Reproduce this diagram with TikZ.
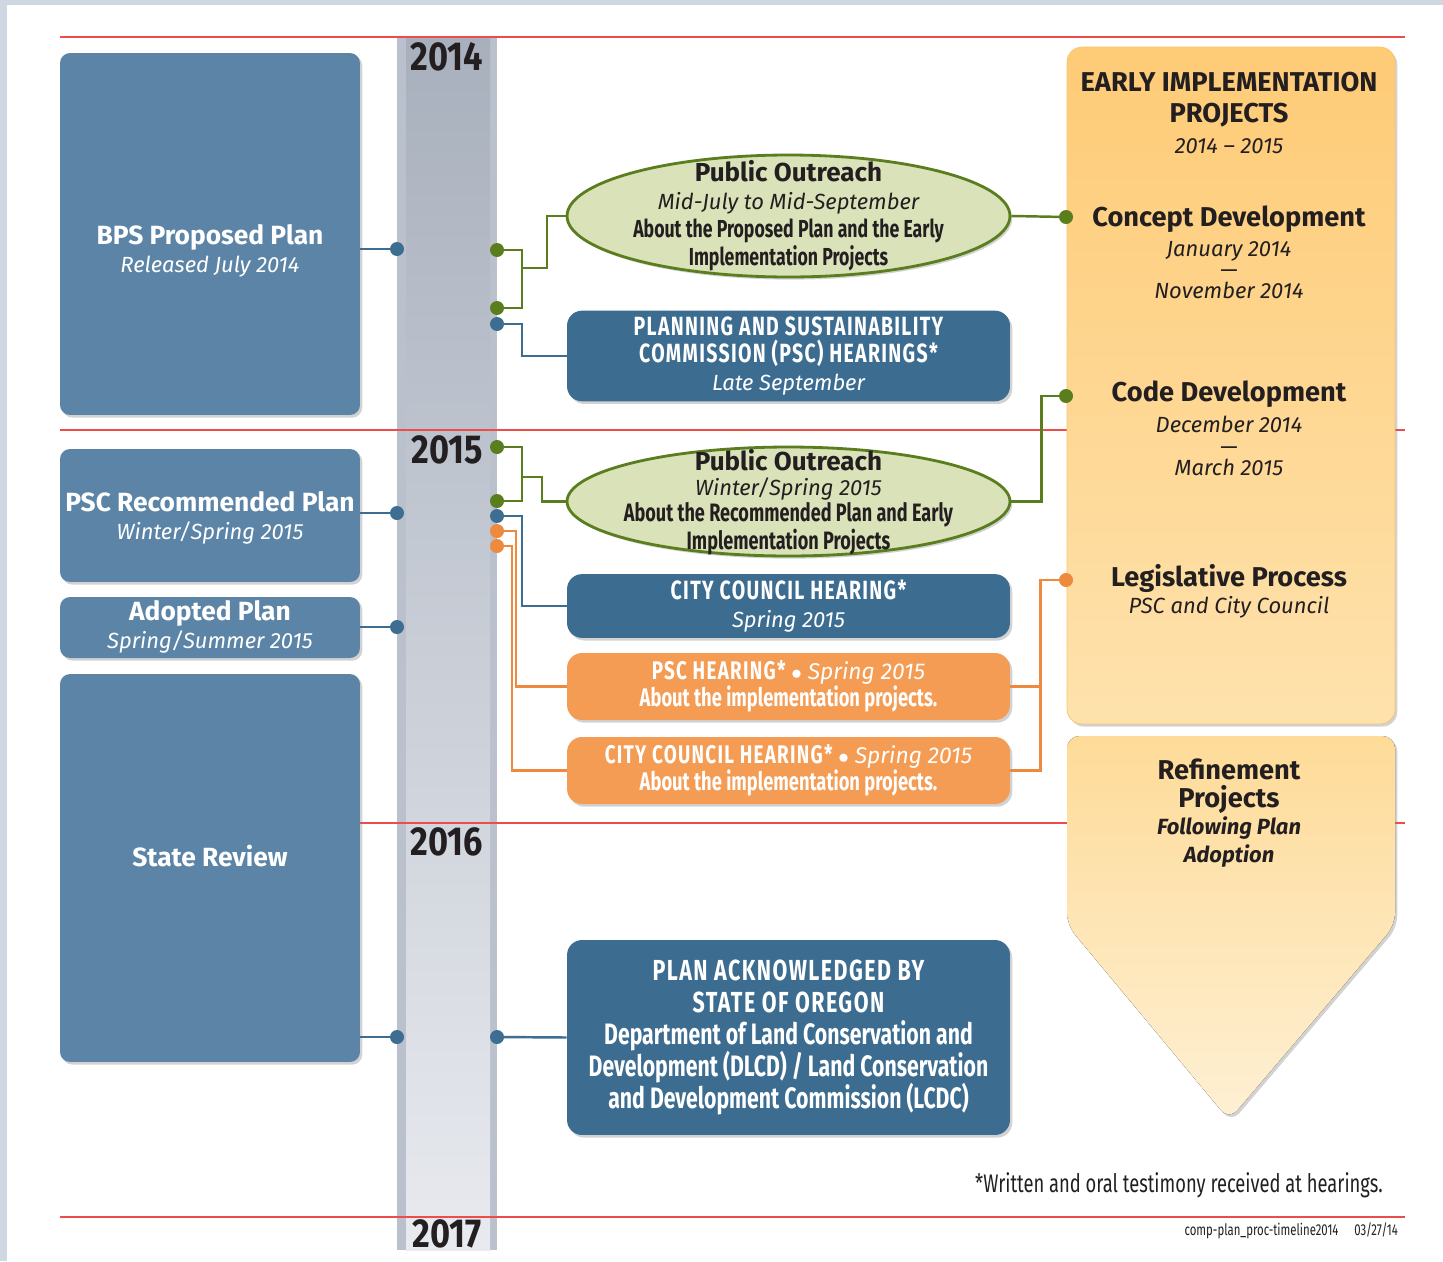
\documentclass[tikz,border=0pt]{standalone}
\usepackage{fontspec}
\setmainfont{Fira Sans}
\newfontfamily\condfont[FakeStretch=0.72]{Fira Sans}
\newfontfamily\capsfont[FakeStretch=0.74,LetterSpace=5]{Fira Sans}
\newfontfamily\yearfont[FakeStretch=0.85]{Fira Sans}
\usetikzlibrary{shapes.geometric,shadows}

\definecolor{framegray}{HTML}{CFD8E2}
\definecolor{leftblue}{HTML}{5B84A6}
\definecolor{midblue}{HTML}{3C6D91}
\definecolor{lineblue}{HTML}{3D6E92}
\definecolor{leafgreen}{HTML}{5A7D1E}
\definecolor{palegreen}{HTML}{DAE2BA}
\definecolor{hearorange}{HTML}{F59C54}
\definecolor{lineorange}{HTML}{EE8A3E}
\definecolor{earlytop}{HTML}{FECB76}
\definecolor{earlybot}{HTML}{FEE2AD}
\definecolor{refinetop}{HTML}{FEDB98}
\definecolor{refinebot}{HTML}{FEF0D4}
\definecolor{yearred}{HTML}{EE4B4B}
\definecolor{bandedge}{HTML}{BAC1CD}
\definecolor{bandtop}{HTML}{A8B0BD}
\definecolor{bandbot}{HTML}{E8EAEF}
\definecolor{inkdark}{HTML}{231F20}

\newcommand\fs[2]{\fontsize{#1}{#2}\selectfont}

\begin{document}
\begin{tikzpicture}[x=0.02cm,y=-0.02cm,
  softshadow/.style={drop shadow={shadow xshift=1.3pt,shadow yshift=-1.5pt,opacity=0.35}},
  leftbox/.style={fill=leftblue,rounded corners=0.2cm,minimum width=6cm,softshadow},
  lefttext/.style={text=white,align=center,font=\fs{15}{16.2}\bfseries},
  midbox/.style={fill=midblue,rounded corners=0.3cm,minimum width=8.86cm,softshadow,
    text=white,align=center,font=\capsfont\fs{15}{15.8}\bfseries},
  hearbox/.style={midbox,fill=hearorange,font=\capsfont\fs{14.5}{15.6}\bfseries},
  outreach/.style={ellipse,fill=palegreen,draw=leafgreen,line width=1.6pt,
    minimum width=8.86cm,softshadow},
  outtext/.style={text=inkdark,align=center,font=\condfont\fs{14}{16}\bfseries},
  righttext/.style={text=inkdark,align=center,font=\fs{15.5}{17.6}\bfseries},
  year/.style={text=inkdark,font=\yearfont\fs{23}{23}\bfseries},
  redline/.style={yearred,line width=0.8pt},
  blueline/.style={lineblue,line width=1.4pt},
  greenline/.style={leafgreen,line width=1.4pt},
  orangeline/.style={lineorange,line width=1.4pt}]

\useasboundingbox (0,0) rectangle (1443,1261);
\fill[white] (0,0) rectangle (1443,1261);
\fill[framegray] (0,0) rectangle (1443,5);
\fill[framegray] (0,0) rectangle (7,1261);

% timeline band
\fill[bandedge] (397,38) rectangle (497,1250);
\shade[top color=bandtop,bottom color=bandbot] (406,38) rectangle (490,1250);

% year lines
\foreach \yy in {37,430,823,1217}
  \draw[redline] (60,\yy) -- (1405,\yy);

\node[year] (y14) at (447,57) {2014};
\node[year] (y15) at (447,450) {2015};
\node[year] (y16) at (447,842) {2016};
\node[year] (y17) at (447,1234) {2017};

% left column
\node[leftbox,minimum height=7.24cm] (bps) at (210,234) {};
\node[lefttext] (bpstxt) at (210,251) {BPS Proposed Plan\\{\fs{12.5}{16.2}\mdseries\itshape Released July 2014}};
\node[leftbox,minimum height=2.66cm] (pscrec) at (210,515.5) {};
\node[lefttext] (pscrectxt) at (210,518) {PSC Recommended Plan\\{\fs{12.5}{16.2}\mdseries\itshape Winter/Spring 2015}};
\node[leftbox,minimum height=1.22cm] (adopted) at (210,627.5) {};
\node[lefttext] (adoptedtxt) at (210,627) {Adopted Plan\\{\fs{12.5}{16.2}\mdseries\itshape Spring/Summer 2015}};
\node[leftbox,minimum height=7.76cm] (state) at (210,868) {};
\node[lefttext] (statetxt) at (210,856) {State Review};

% middle column
\node[outreach,minimum height=2.44cm] (out1) at (788.5,216) {};
\node[outtext] (out1txt) at (788.5,216) {{\normalfont\fs{14.8}{16}\bfseries Public Outreach}\\
  {\normalfont\fs{12.5}{16}\itshape Mid-July to Mid-September}\\
  About the Proposed Plan and the Early\\Implementation Projects};
\node[midbox,minimum height=1.76cm] (psc) at (788.5,356) {PLANNING AND SUSTAINABILITY\\COMMISSION (PSC) HEARINGS*\\
  {\normalfont\fs{12.5}{15.8}\itshape Late September}};
\node[outreach,minimum height=2.18cm] (out2) at (788.5,501.5) {};
\node[outtext,font=\condfont\fs{14.3}{14.6}\bfseries] (out2txt) at (788.5,502) {{\normalfont\fs{14.8}{14.6}\bfseries Public Outreach}\\
  {\normalfont\fs{12.5}{14.6}\itshape Winter/Spring 2015}\\
  About the Recommended Plan and Early\\Implementation Projects};
\node[midbox,minimum height=1.24cm] (cc) at (788.5,606) {CITY COUNCIL HEARING*\\
  {\normalfont\fs{12.5}{15.8}\itshape Spring 2015}};
\node[hearbox,minimum height=1.34cm] (pschear) at (788.5,686.5) {PSC HEARING* {\normalfont\fs{13}{15.6}$\bullet$ \itshape Spring 2015}\\
  {\condfont\bfseries About the implementation projects.}};
\node[hearbox,minimum height=1.34cm] (cchear) at (788.5,770.5) {CITY COUNCIL HEARING* {\normalfont\fs{13}{15.6}$\bullet$ \itshape Spring 2015}\\
  {\condfont\bfseries About the implementation projects.}};
\node[midbox,minimum height=3.9cm,font=\capsfont\fs{16.5}{18.2}\bfseries] (ack) at (788.5,1037.5) {PLAN ACKNOWLEDGED BY\\STATE OF OREGON\\
  {\condfont\fs{16.8}{18.2}\bfseries Department of Land Conservation and}\\
  {\condfont\fs{16.8}{18.2}\bfseries Development (DLCD) / Land Conservation}\\
  {\condfont\fs{16.8}{18.2}\bfseries and Development Commission (LCDC)}};

% right column
\node[top color=earlytop,bottom color=earlybot,draw=earlytop!90!orange,line width=0.4pt,
  rounded corners=0.3cm,minimum width=6.56cm,minimum height=13.54cm,softshadow] (early) at (1231,385.5) {};
\node[righttext] (earlytxt) at (1229,113) {EARLY IMPLEMENTATION\\PROJECTS\\{\fs{12.5}{17.6}\mdseries\itshape 2014 -- 2015}};
\node[righttext] (concept) at (1229,219) {Concept Development};
\node[righttext,font=\fs{12.5}{12.2}\itshape] (conceptdate) at (1229,270) {January 2014\\\upshape---\\November 2014};
\node[righttext] (code) at (1229,394) {Code Development};
\node[righttext,font=\fs{12.5}{12.2}\itshape] (codedate) at (1229,446) {December 2014\\\upshape---\\March 2015};
\node[righttext] (legis) at (1229,578) {Legislative Process};
\node[righttext,font=\fs{12.5}{16}\itshape] (legistxt) at (1229,607) {PSC and City Council};

\fill[top color=refinetop,bottom color=refinebot,rounded corners=0.25cm,softshadow]
  (1067,736) -- (1395,736) -- (1395,925) -- (1229,1120) -- (1067,925) -- cycle;
\node[righttext,font=\fs{15.5}{15.8}\bfseries] (refine) at (1229,813) {Refinement\\Projects\\
  {\fs{12.5}{15.8}\itshape Following Plan}\\{\fs{12.5}{15.8}\itshape Adoption}};

% notes
\node[anchor=east,text=inkdark,font=\condfont\fs{14.5}{16}] (note) at (1389,1185) {*Written and oral testimony received at hearings.};
\node[anchor=east,text=inkdark,font=\condfont\fs{9}{10}] (stamp) at (1404,1231) {comp-plan\_proc-timeline2014\quad 03/27/14};

% dots on the band
\coordinate (d1) at (397,249);
\coordinate (d2) at (397,513);
\coordinate (d3) at (397,627);
\coordinate (d4) at (397,1037);
\coordinate (g1) at (497,250);
\coordinate (g2) at (497,308);
\coordinate (b1) at (497,324);
\coordinate (g3) at (497,447);
\coordinate (g4) at (497,501);
\coordinate (b2) at (497,516);
\coordinate (o1) at (497,531);
\coordinate (o2) at (497,546);
\coordinate (b3) at (497,1037);
\coordinate (gr1) at (1066,217);
\coordinate (gr2) at (1066,396);
\coordinate (or1) at (1066,580);
\coordinate (gj1) at (522,268);
\coordinate (gj2) at (522,477);

% connectors
\draw[blueline] (bps.east |- d1) -- (d1);
\draw[blueline] (pscrec.east |- d2) -- (d2);
\draw[blueline] (adopted.east |- d3) -- (d3);
\draw[blueline] (state.east |- d4) -- (d4);

\draw[greenline] (g1) -| (gj1) |- (g2);
\draw[greenline] (gj1) -- ++(25,0) |- (out1.west);
\draw[blueline] (b1) -- ++(25,0) |- (psc.west);
\draw[greenline] (g3) -| (gj2) |- (g4);
\draw[greenline] (gj2) -- ++(20,0) |- (out2.west);
\draw[blueline] (b2) -- ++(25,0) |- (cc.west);
\draw[orangeline] (o1) -- ++(19,0) |- (pschear.west);
\draw[orangeline] (o2) -- ++(15,0) |- (cchear.west);
\draw[blueline] (b3) -- (ack.west);

\draw[greenline] (out1.east) -- (gr1);
\draw[greenline] (out2.east) -- ++(30,0) |- (gr2);
\draw[orangeline] (pschear.east) -- ++(30,0) |- (or1);
\draw[orangeline] (cchear.east) -- ++(30,0) |- (or1);

\foreach \dd in {d1,d2,d3,d4,b1,b2,b3}
  \fill[lineblue] (\dd) circle[radius=0.14cm];
\foreach \dd in {g1,g2,g3,g4,gr1,gr2}
  \fill[leafgreen] (\dd) circle[radius=0.14cm];
\foreach \dd in {o1,o2,or1}
  \fill[lineorange] (\dd) circle[radius=0.14cm];
\end{tikzpicture}
\end{document}
